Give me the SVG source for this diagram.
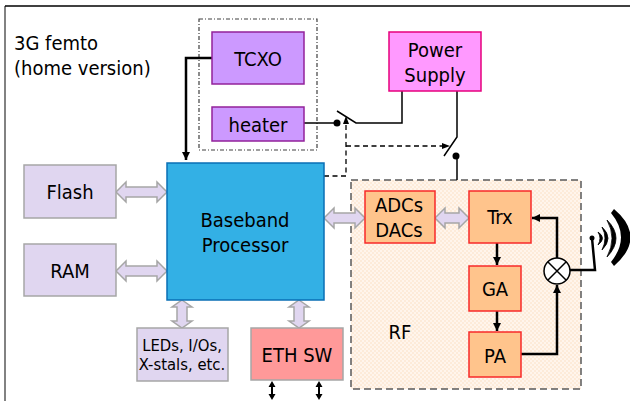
<svg xmlns="http://www.w3.org/2000/svg" width="630" height="401" viewBox="0 0 630 401">
<style>
text{font-family:"DejaVu Sans Condensed","DejaVu Sans",sans-serif;font-stretch:condensed;font-size:20px;fill:#000;text-anchor:middle}
.lav{fill:#e0d6f0;stroke:#a6a6a6;stroke-width:1.5}
.pur{fill:#cc99ff;stroke:#93229b;stroke-width:1.5}
.org{fill:#ffc48c;stroke:#f72a2a;stroke-width:1.5}
.w{fill:none;stroke:#000;stroke-width:1.5}
.t{fill:none;stroke:#000;stroke-width:2.5}
.ba{fill:#e0d6f0;stroke:#a6a6a6;stroke-width:1.5}
.sm{font-size:16.500px}
</style>
<defs>
<pattern id="dots" width="4" height="4" patternUnits="userSpaceOnUse"><rect width="4" height="4" fill="#fff5ec"/><rect width="2" height="2" fill="#fdebd9"/><rect x="2" y="2" width="2" height="2" fill="#fdebd9"/></pattern>
<marker id="a" markerUnits="userSpaceOnUse" markerWidth="10" markerHeight="10" refX="8" refY="4" orient="auto"><path d="M0 0L8 4L0 8Z" fill="#000"/></marker>
</defs>
<path d="M5 401V6" fill="none" stroke="#595959" stroke-width="1.5"/>
<path d="M5 6H630" fill="none" stroke="#000" stroke-width="1.5"/>
<text x="14" y="50" style="text-anchor:start">3G femto</text>
<text x="14" y="75" style="text-anchor:start">(home version)</text>
<g id="rf"><rect x="351" y="180" width="230" height="209" fill="url(#dots)" stroke="#595959" stroke-width="1.5" stroke-dasharray="7 4"/><text x="400" y="339">RF</text></g>
<rect id="oscillator-box" x="199" y="19" width="118" height="131" fill="none" stroke="#404040" stroke-width="1.2" stroke-dasharray="4 2 1 2"/>
<g id="connectors">
<path class="t" d="M212 58H186V160" marker-end="url(#a)"/>
<path class="w" d="M304 123H337"/>
<circle cx="337" cy="123" r="3.5"/>
<path class="w" d="M337 111L356 123H402V91"/>
<path class="w" d="M457 91V137L444 156"/>
<circle cx="456" cy="156" r="3.5"/>
<path class="w" d="M457 156V180"/>
<path d="M324 176H346V119M346 146H448" fill="none" stroke="#000" stroke-width="1.3" stroke-dasharray="5 3.5"/>
<path d="M346 116L343 124H349Z M450 146L442 143V149Z"/>
<path class="t" d="M497 243V265" marker-end="url(#a)"/>
<path class="t" d="M497 311V331" marker-end="url(#a)"/>
<path class="t" d="M521 354H557V285" marker-end="url(#a)"/>
<path class="t" d="M557 258V218H532" marker-end="url(#a)"/>
<path class="t" d="M570 270H595L592 238"/>
<circle cx="592" cy="238" r="2.5"/>
<path d="M272 381L275.500 387H273V394H275.500L272 400L268.500 394H271V387H268.500Z"/>
<path d="M319 381L322.500 387H320V394H322.500L319 400L315.500 394H318V387H315.500Z"/>
<path class="ba" d="M116 192L126 182V187H157V182L167 192L157 202V197H126V202Z"/>
<path class="ba" d="M116 271L126 261V266H157V261L167 271L157 281V276H126V281Z"/>
<path class="ba" d="M324 218L334 208V213H355V208L365 218L355 228V223H334V228Z"/>
<path class="ba" d="M435 218L445 208V213H459V208L469 218L459 228V223H445V228Z"/>
<path class="ba" d="M182 300L192 307H187V321H192L182 328L172 321H177V307H172Z"/>
<path class="ba" d="M299 300L309 307H304V321H309L299 328L289 321H294V307H289Z"/>
</g>
<g id="antenna-waves">
<path d="M598 232Q607 238 598 245Q602 238 598 232Z" stroke="#000" stroke-width=".8"/>
<path d="M602 227Q614 238 602 250Q608 238 602 227Z" stroke="#000" stroke-width=".8"/>
<path d="M607 220Q625 238 607 257Q617 238 607 220Z" stroke="#000" stroke-width=".8"/>
<path d="M614 209Q647 237 614 266L611 262Q631 237 611 213Z"/>
</g>
<g id="tcxo"><rect class="pur" x="212" y="32" width="92" height="52"/><text x="258" y="66">TCXO</text></g>
<g id="heater"><rect class="pur" x="212" y="107" width="92" height="34"/><text x="258" y="132">heater</text></g>
<g id="power"><rect x="389" y="32" width="92" height="59" fill="#ff99ff" stroke="#e6007e" stroke-width="1.5"/><text x="435" y="57">Power</text><text x="435" y="82">Supply</text></g>
<g id="baseband"><rect x="167" y="163" width="157" height="137" fill="#33b0e5" stroke="#0a6fb5" stroke-width="1.5"/><text x="245" y="227">Baseband</text><text x="245" y="252">Processor</text></g>
<g id="flash"><rect class="lav" x="24" y="165" width="92" height="53"/><text x="70" y="199">Flash</text></g>
<g id="ram"><rect class="lav" x="24" y="244" width="92" height="52"/><text x="70" y="278">RAM</text></g>
<g id="leds"><rect class="lav" x="137" y="328" width="91" height="53"/><text class="sm" x="182" y="351">LEDs, I/Os,</text><text class="sm" x="182" y="370">X-stals, etc.</text></g>
<g id="eth"><rect x="251" y="328" width="92" height="52" fill="#ff9999" stroke="#a6a6a6" stroke-width="1.5"/><text x="297" y="362">ETH SW</text></g>
<g id="adc"><rect class="org" x="365" y="191" width="70" height="52"/><text x="399" y="212">ADCs</text><text x="399" y="237">DACs</text></g>
<g id="trx"><rect class="org" x="469" y="191" width="62" height="52"/><text x="500" y="224">Trx</text></g>
<g id="ga"><rect class="org" x="469" y="266" width="52" height="45"/><text x="495" y="296">GA</text></g>
<g id="pa"><rect class="org" x="469" y="332" width="52" height="45"/><text x="495" y="363">PA</text></g>
<g id="mixer"><circle cx="557" cy="271" r="13" fill="#fff" stroke="#000" stroke-width="1.5"/><path class="w" d="M548 262L566 280M566 262L548 280"/></g>
</svg>
